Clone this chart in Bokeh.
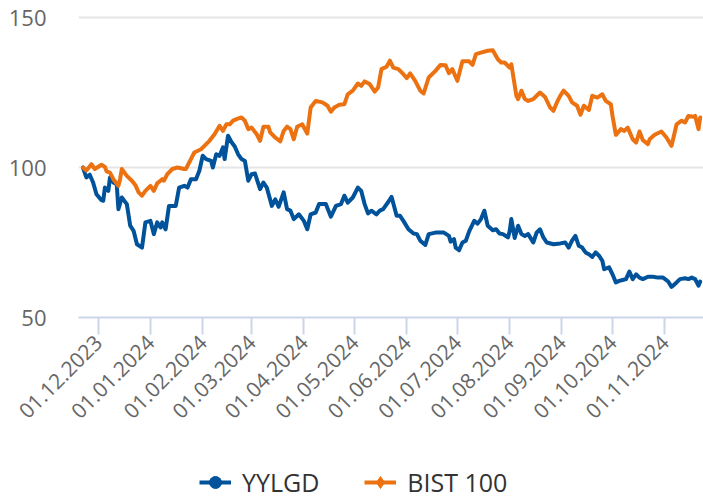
import math
import pandas as pd
from bokeh.plotting import figure
from bokeh.layouts import column
from bokeh.models import (ColumnDataSource, Range1d, FixedTicker, DatetimeTickFormatter,
                          Legend, LegendItem)
from bokeh.embed import file_html
from bokeh.resources import INLINE

# ---------------- data ----------------
bist_dates = [
    "2023-11-22", "2023-11-24", "2023-11-27", "2023-11-29", "2023-12-03", "2023-12-05",
    "2023-12-06", "2023-12-08", "2023-12-10", "2023-12-13", "2023-12-14", "2023-12-15",
    "2023-12-18", "2023-12-21", "2023-12-23", "2023-12-25", "2023-12-27", "2023-12-29",
    "2024-01-01", "2024-01-03", "2024-01-05", "2024-01-08", "2024-01-09", "2024-01-11",
    "2024-01-14", "2024-01-17", "2024-01-21", "2024-01-22", "2024-01-25", "2024-01-27",
    "2024-01-31", "2024-02-02", "2024-02-05", "2024-02-08", "2024-02-11", "2024-02-13",
    "2024-02-15", "2024-02-17", "2024-02-19", "2024-02-21", "2024-02-24", "2024-02-26",
    "2024-02-28", "2024-03-01", "2024-03-04", "2024-03-06", "2024-03-08", "2024-03-11",
    "2024-03-12", "2024-03-15", "2024-03-18", "2024-03-20", "2024-03-22", "2024-03-24",
    "2024-03-26", "2024-03-28", "2024-03-31", "2024-04-03", "2024-04-05", "2024-04-08",
    "2024-04-12", "2024-04-15", "2024-04-17", "2024-04-19", "2024-04-22", "2024-04-25",
    "2024-04-27", "2024-04-30", "2024-05-03", "2024-05-05", "2024-05-07", "2024-05-10",
    "2024-05-13", "2024-05-15", "2024-05-17", "2024-05-20", "2024-05-22", "2024-05-24",
    "2024-05-27", "2024-05-30", "2024-06-01", "2024-06-03", "2024-06-06", "2024-06-09",
    "2024-06-11", "2024-06-14", "2024-06-18", "2024-06-21", "2024-06-24", "2024-06-26",
    "2024-06-28", "2024-07-01", "2024-07-04", "2024-07-08", "2024-07-10", "2024-07-12",
    "2024-07-15", "2024-07-19", "2024-07-22", "2024-07-25", "2024-07-27", "2024-07-29",
    "2024-08-01", "2024-08-02", "2024-08-05", "2024-08-06", "2024-08-08", "2024-08-10",
    "2024-08-12", "2024-08-15", "2024-08-17", "2024-08-19", "2024-08-22", "2024-08-25",
    "2024-08-27", "2024-08-29", "2024-08-31", "2024-09-02", "2024-09-05", "2024-09-07",
    "2024-09-10", "2024-09-12", "2024-09-14", "2024-09-17", "2024-09-19", "2024-09-22",
    "2024-09-25", "2024-09-27", "2024-09-30", "2024-10-01", "2024-10-03", "2024-10-06",
    "2024-10-08", "2024-10-10", "2024-10-13", "2024-10-15", "2024-10-17", "2024-10-19",
    "2024-10-22", "2024-10-23", "2024-10-26", "2024-10-30", "2024-11-02", "2024-11-05",
    "2024-11-08", "2024-11-11", "2024-11-13", "2024-11-15", "2024-11-18", "2024-11-19",
    "2024-11-21", "2024-11-22",
]
bist_values = [
    100.0, 99.0, 101.1, 99.5, 100.9, 100.2,
    98.7, 98.3, 96.1, 93.9, 96.1, 99.5,
    97.2, 95.6, 94.2, 91.7, 90.6, 92.2,
    93.9, 92.2, 94.7, 96.1, 95.6, 97.8,
    99.5, 100.0, 99.5, 99.5, 102.8, 105.0,
    106.1, 107.2, 108.9, 111.1, 113.9, 112.2,
    114.4, 114.4, 115.6, 116.1, 116.7, 115.6,
    112.8, 113.3, 111.1, 108.9, 113.6, 113.6,
    111.7, 110.0, 108.7, 112.2, 113.6, 112.8,
    109.4, 113.6, 114.4, 111.3, 120.0, 122.2,
    121.7, 120.6, 118.6, 120.0, 120.9, 121.1,
    124.4, 125.6, 128.0, 127.2, 128.7, 127.8,
    125.3, 126.7, 132.8, 133.6, 135.6, 133.3,
    132.8, 131.1, 129.8, 131.4, 128.9, 125.6,
    124.7, 130.0, 132.2, 134.2, 134.1, 131.4,
    132.8, 128.9, 135.4, 135.4, 134.2, 137.8,
    138.3, 138.9, 139.1, 136.1, 135.0, 135.0,
    133.3, 134.4, 123.9, 122.8, 125.6, 122.8,
    122.2, 122.8, 123.9, 125.0, 123.5, 120.0,
    118.9, 121.7, 123.9, 125.6, 123.9, 121.7,
    120.6, 117.6, 120.6, 119.2, 123.9, 123.3,
    124.4, 122.2, 121.1, 117.2, 110.9, 112.8,
    112.2, 113.3, 109.4, 108.3, 112.0, 109.1,
    107.8, 109.4, 110.9, 112.0, 110.0, 107.2,
    114.4, 115.6, 115.0, 117.2, 116.9, 117.2,
    112.8, 116.7,
]

yylgd_dates = [
    "2023-11-22", "2023-11-23", "2023-11-24", "2023-11-26", "2023-11-28", "2023-11-30",
    "2023-12-03", "2023-12-04", "2023-12-05", "2023-12-07", "2023-12-08", "2023-12-10",
    "2023-12-12", "2023-12-13", "2023-12-15", "2023-12-18", "2023-12-20", "2023-12-22",
    "2023-12-24", "2023-12-27", "2023-12-29", "2024-01-01", "2024-01-03", "2024-01-05",
    "2024-01-07", "2024-01-08", "2024-01-10", "2024-01-12", "2024-01-14", "2024-01-16",
    "2024-01-18", "2024-01-21", "2024-01-23", "2024-01-25", "2024-01-28", "2024-01-30",
    "2024-02-01", "2024-02-03", "2024-02-06", "2024-02-07", "2024-02-09", "2024-02-11",
    "2024-02-13", "2024-02-14", "2024-02-16", "2024-02-18", "2024-02-20", "2024-02-22",
    "2024-02-24", "2024-02-26", "2024-02-28", "2024-03-01", "2024-03-03", "2024-03-06",
    "2024-03-08", "2024-03-10", "2024-03-13", "2024-03-15", "2024-03-17", "2024-03-20",
    "2024-03-22", "2024-03-24", "2024-03-26", "2024-03-29", "2024-04-01", "2024-04-03",
    "2024-04-05", "2024-04-08", "2024-04-10", "2024-04-14", "2024-04-17", "2024-04-20",
    "2024-04-23", "2024-04-25", "2024-04-27", "2024-04-30", "2024-05-03", "2024-05-05",
    "2024-05-07", "2024-05-09", "2024-05-11", "2024-05-14", "2024-05-16", "2024-05-18",
    "2024-05-21", "2024-05-23", "2024-05-26", "2024-05-28", "2024-05-30", "2024-06-02",
    "2024-06-05", "2024-06-07", "2024-06-09", "2024-06-12", "2024-06-14", "2024-06-18",
    "2024-06-23", "2024-06-26", "2024-06-27", "2024-06-29", "2024-06-30", "2024-07-02",
    "2024-07-04", "2024-07-06", "2024-07-08", "2024-07-11", "2024-07-13", "2024-07-15",
    "2024-07-17", "2024-07-19", "2024-07-22", "2024-07-24", "2024-07-26", "2024-07-28",
    "2024-07-31", "2024-08-01", "2024-08-02", "2024-08-04", "2024-08-06", "2024-08-08",
    "2024-08-10", "2024-08-12", "2024-08-15", "2024-08-17", "2024-08-19", "2024-08-21",
    "2024-08-23", "2024-08-27", "2024-08-31", "2024-09-03", "2024-09-05", "2024-09-07",
    "2024-09-09", "2024-09-11", "2024-09-13", "2024-09-15", "2024-09-17", "2024-09-19",
    "2024-09-21", "2024-09-23", "2024-09-25", "2024-09-26", "2024-09-29", "2024-10-01",
    "2024-10-03", "2024-10-05", "2024-10-07", "2024-10-09", "2024-10-11", "2024-10-13",
    "2024-10-15", "2024-10-17", "2024-10-19", "2024-10-22", "2024-10-25", "2024-10-28",
    "2024-10-31", "2024-11-03", "2024-11-05", "2024-11-08", "2024-11-10", "2024-11-13",
    "2024-11-15", "2024-11-17", "2024-11-19", "2024-11-21", "2024-11-22",
]
yylgd_values = [
    100.0, 98.3, 96.7, 97.6, 95.0, 91.1,
    89.1, 88.9, 93.3, 92.2, 96.7, 95.0,
    94.4, 86.1, 90.0, 87.8, 80.6, 78.9,
    74.4, 73.3, 81.7, 82.2, 77.8, 81.7,
    80.0, 81.7, 79.4, 87.2, 87.2, 87.2,
    93.3, 93.9, 93.3, 96.1, 96.1, 98.9,
    103.9, 102.8, 102.2, 100.0, 104.4, 103.9,
    106.7, 102.8, 110.6, 108.5, 107.0, 104.4,
    102.8, 102.2, 95.6, 97.8, 98.0, 92.8,
    95.0, 93.3, 87.2, 89.4, 86.9, 91.7,
    86.1, 85.6, 82.8, 84.4, 82.2, 79.4,
    84.4, 85.0, 87.8, 87.8, 83.6, 87.2,
    87.8, 90.6, 88.3, 90.0, 93.3, 92.2,
    87.8, 84.7, 85.6, 84.4, 85.6, 86.1,
    88.5, 90.2, 83.9, 83.9, 82.2, 79.4,
    78.0, 77.8, 75.6, 74.2, 77.8, 78.3,
    78.3, 77.2, 75.3, 76.1, 73.3, 72.4,
    75.0, 75.6, 78.7, 82.2, 81.3, 82.8,
    85.6, 80.6, 79.1, 79.4, 78.0, 77.8,
    76.7, 78.7, 82.8, 76.5, 80.6, 77.8,
    77.2, 77.8, 75.0, 78.3, 79.4, 76.7,
    75.0, 74.4, 74.7, 75.0, 73.3, 75.6,
    77.2, 73.9, 73.3, 71.7, 71.1, 70.2,
    71.7, 70.6, 68.9, 66.1, 66.7, 64.4,
    61.7, 62.2, 62.5, 62.8, 65.3, 62.8,
    64.4, 63.3, 62.8, 63.6, 63.6, 63.3,
    63.3, 62.0, 60.2, 61.7, 62.8, 63.1,
    62.8, 63.3, 62.8, 60.6, 62.0,
]

series_names = ["YYLGD", "BIST 100"]
y_ticks = [50, 100, 150]
x_tick_dates = ["2023-12-01", "2024-01-01", "2024-02-01", "2024-03-01", "2024-04-01",
                "2024-05-01", "2024-06-01", "2024-07-01", "2024-08-01", "2024-09-01",
                "2024-10-01", "2024-11-01"]

# ---------------- styling ----------------
BLUE = "#00529b"
ORANGE = "#ec7211"
FONT = "Open Sans"

src_y = ColumnDataSource(dict(x=pd.to_datetime(yylgd_dates), y=yylgd_values))
src_b = ColumnDataSource(dict(x=pd.to_datetime(bist_dates), y=bist_values))

p = figure(width=703, height=443, x_axis_type="datetime",
           x_range=Range1d(pd.Timestamp("2023-11-19 08:00"), pd.Timestamp("2024-11-23 23:00")),
           y_range=Range1d(50, 151),
           output_backend="svg", toolbar_location=None,
           min_border_left=78, min_border_right=0, min_border_top=14, min_border_bottom=126)
p.outline_line_color = None
p.background_fill_color = "white"
p.border_fill_color = "white"

p.line("x", "y", source=src_y, line_color=BLUE, line_width=4,
       line_join="round", line_cap="round")
p.line("x", "y", source=src_b, line_color=ORANGE, line_width=4,
       line_join="round", line_cap="round")

# axes
yax = p.yaxis[0]
yax.ticker = FixedTicker(ticks=y_ticks)
yax.axis_line_color = None
yax.major_tick_line_color = None
yax.major_tick_out = 0
yax.major_tick_in = 0
yax.minor_tick_line_color = None
yax.major_label_text_font = FONT
yax.major_label_text_font_size = "22px"
yax.major_label_text_color = "#666666"
yax.major_label_standoff = 32

xax = p.xaxis[0]
xax.ticker = FixedTicker(ticks=[pd.Timestamp(d).value / 1e6 for d in x_tick_dates])
fmt = "%d.%m.%Y"
xax.formatter = DatetimeTickFormatter(milliseconds=fmt, seconds=fmt, minsec=fmt, minutes=fmt,
                                      hourmin=fmt, hours=fmt, days=fmt, months=fmt, years=fmt)
xax.axis_line_color = "#ccd6eb"
xax.axis_line_width = 2
xax.major_tick_line_color = "#ccd6eb"
xax.major_tick_line_width = 2
xax.major_tick_out = 17
xax.major_tick_in = 0
xax.minor_tick_line_color = None
xax.major_label_orientation = math.pi / 4
xax.major_label_text_font = FONT
xax.major_label_text_font_size = "21px"
xax.major_label_text_color = "#666666"
xax.major_label_standoff = 4

p.xgrid.grid_line_color = None
p.ygrid.grid_line_color = "#e6e6e6"
p.ygrid.grid_line_width = 2

# ---------------- legend strip ----------------
lg = figure(width=703, height=56, output_backend="svg", toolbar_location=None,
            x_range=Range1d(0, 1), y_range=Range1d(0, 1),
            x_axis_location=None, y_axis_location=None, min_border=0)
lg.outline_line_color = None
lg.xgrid.grid_line_color = None
lg.ygrid.grid_line_color = None
# one NaN point per helper renderer: nothing is drawn in the strip, only the legend glyphs
blank = ColumnDataSource(dict(x=[float("nan")], y=[float("nan")]))
l_y = lg.line("x", "y", source=blank, line_color=BLUE, line_width=4)
s_y = lg.scatter("x", "y", source=blank, marker="circle", size=12,
                 fill_color=BLUE, line_color=BLUE)
l_b = lg.line("x", "y", source=blank, line_color=ORANGE, line_width=4)
s_b = lg.scatter("x", "y", source=blank, marker="diamond", size=14,
                 fill_color=ORANGE, line_color=ORANGE)

legend = Legend(items=[LegendItem(label=series_names[0], renderers=[l_y, s_y]),
                       LegendItem(label=series_names[1], renderers=[l_b, s_b])],
                orientation="horizontal", location=(121, 0),
                label_text_font=FONT, label_text_font_size="25px", label_text_color="#333333",
                glyph_width=32, glyph_height=30, label_standoff=11, spacing=45,
                padding=0, margin=0, border_line_color=None, background_fill_alpha=0)
lg.add_layout(legend, "center")

layout = column(p, lg, spacing=0)
open("out.html", "w").write(file_html(layout, INLINE))
